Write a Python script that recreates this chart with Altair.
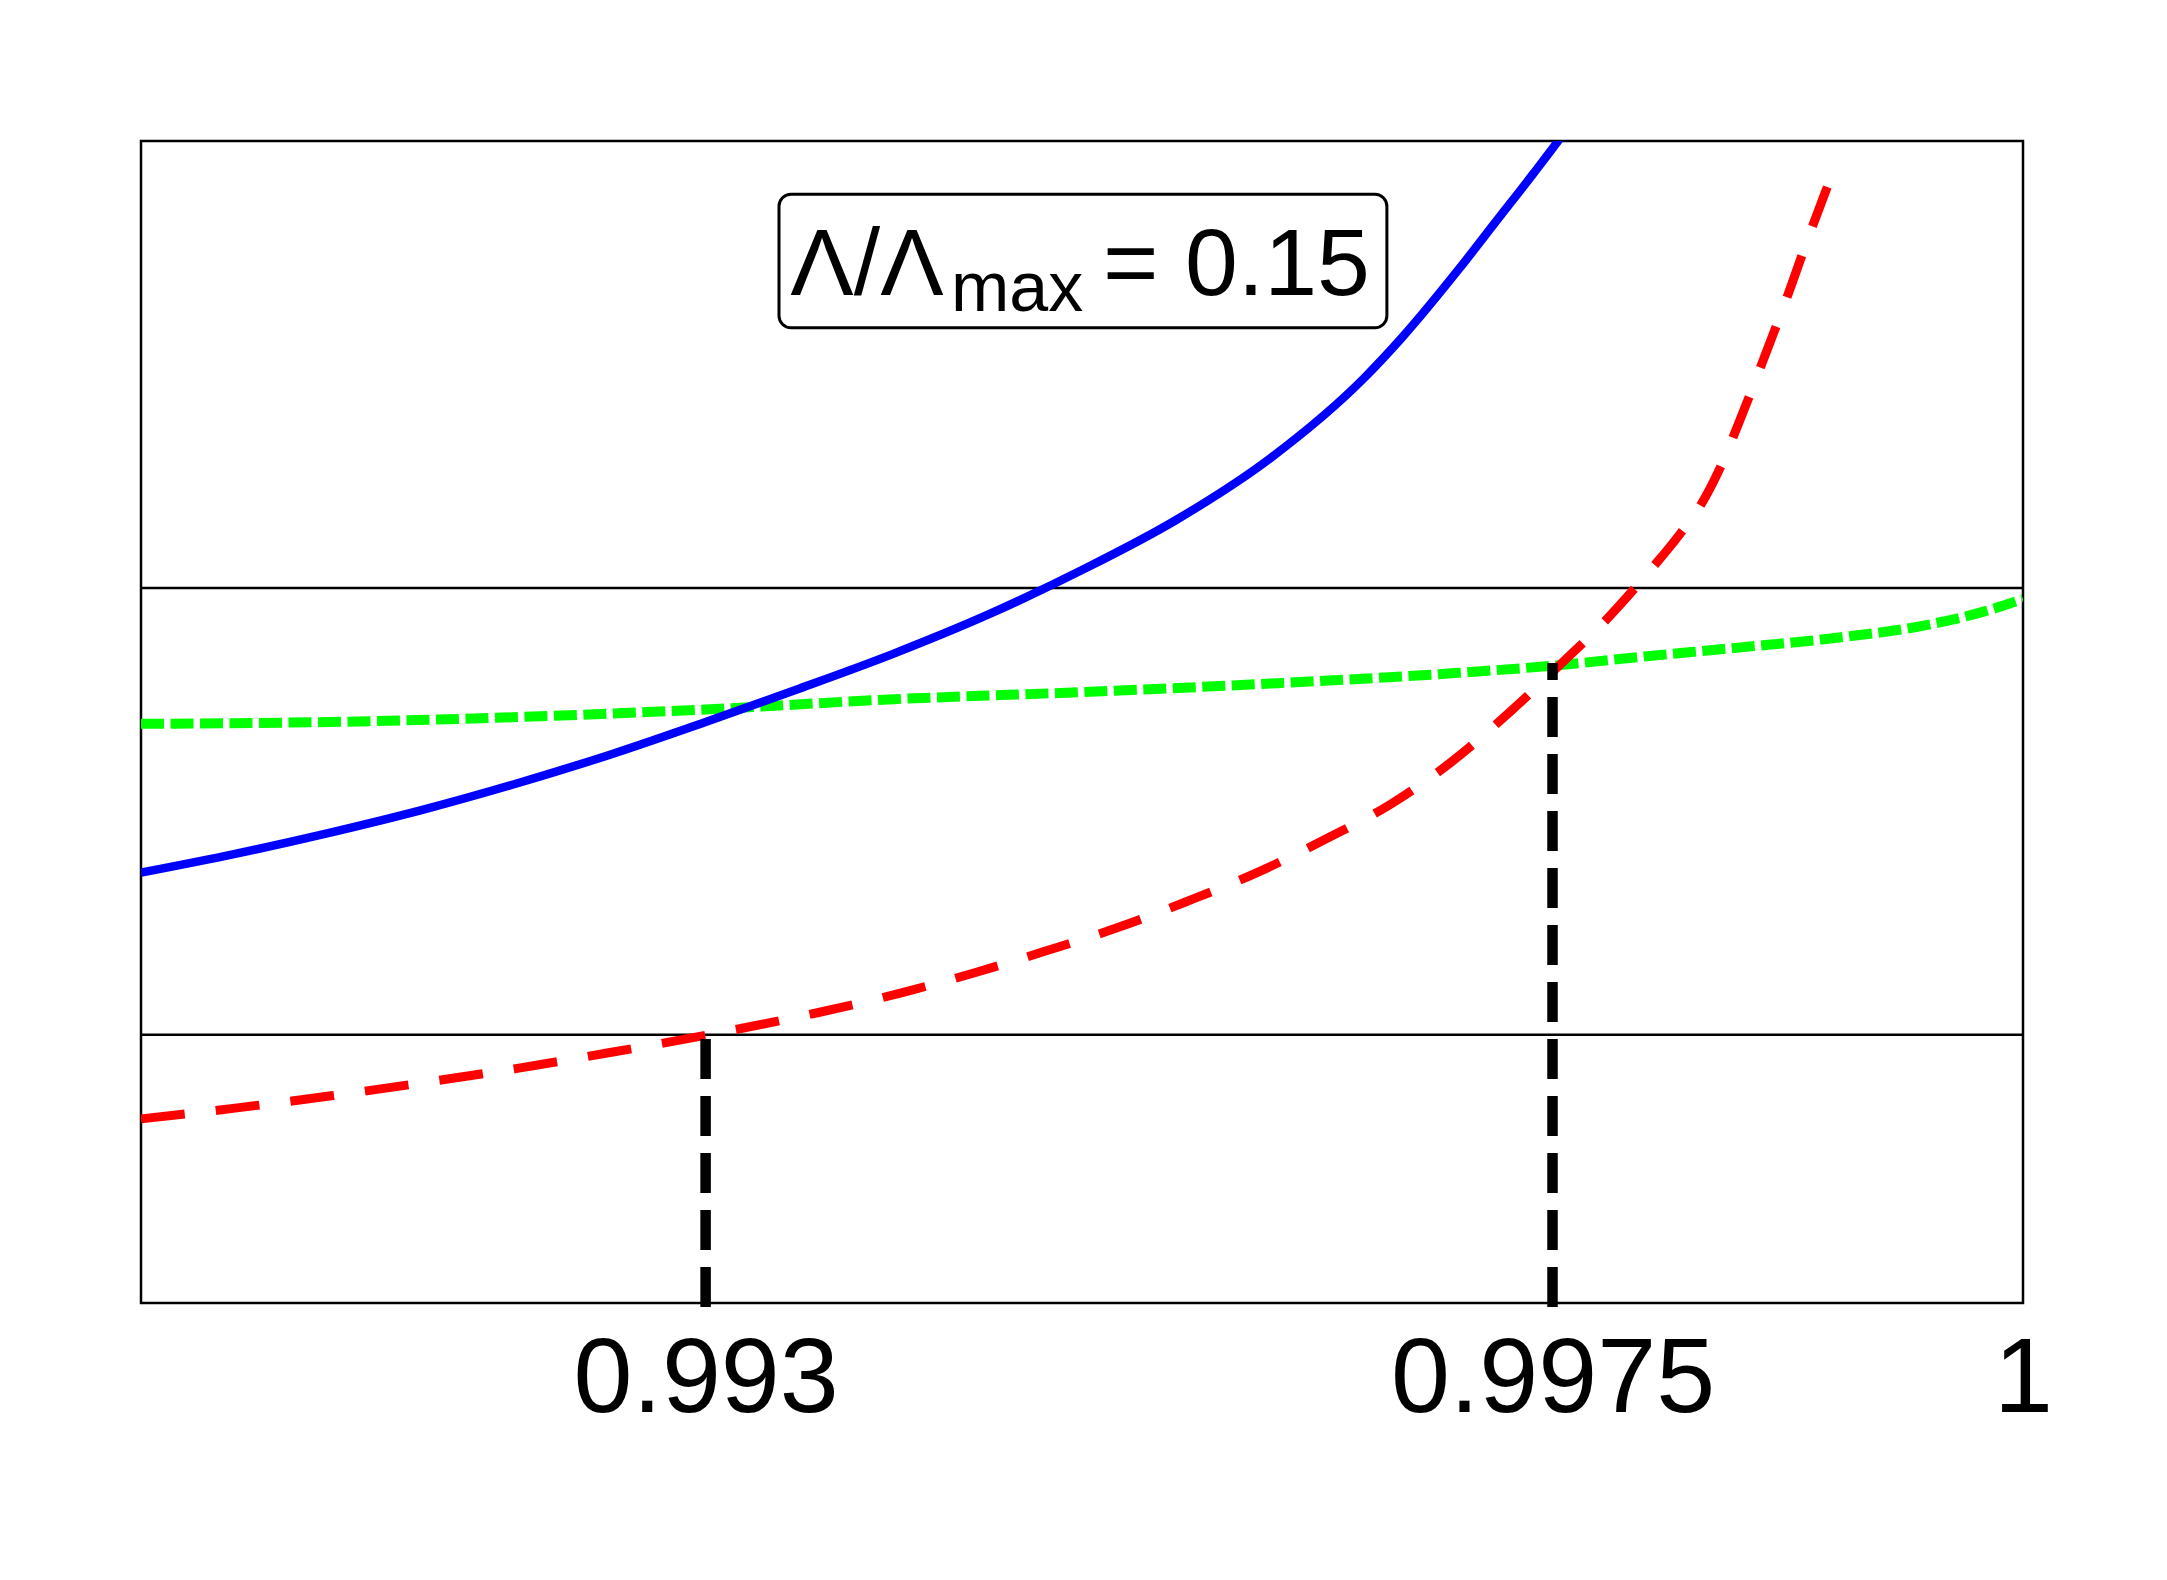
import math
import altair as alt
import pandas as pd

# ---- data ----
blue_x = [0.9900, 0.9905, 0.9910, 0.9915, 0.9920, 0.9925, 0.9930, 0.9935, 0.9940,
          0.9945, 0.9950, 0.9955, 0.9960, 0.9965, 0.9967, 0.9970, 0.9972, 0.9974, 0.99753, 0.9976]
blue_y = [1.363, 1.405, 1.452, 1.504, 1.563, 1.628, 1.700, 1.775, 1.853,
          1.940, 2.040, 2.152, 2.290, 2.470, 2.560, 2.712, 2.820, 2.928, 3.000, 3.040]

green_x = [0.9900, 0.9910, 0.9920, 0.9930, 0.9940, 0.9950, 0.9960, 0.9970, 0.9975,
           0.9980, 0.9985, 0.9990, 0.9995, 0.9998, 1.0000]
green_y = [1.696, 1.700, 1.711, 1.728, 1.751, 1.767, 1.786, 1.810, 1.826,
           1.847, 1.867, 1.888, 1.918, 1.948, 1.975]

red_x = [0.9900, 0.9905, 0.9910, 0.9915, 0.9920, 0.9925, 0.9930, 0.9936,
         0.99404, 0.99443, 0.99481, 0.99519, 0.99556, 0.99593, 0.99629, 0.99664,
         0.99697, 0.99728, 0.99755, 0.99777, 0.99800, 0.99818, 0.99828, 0.99839,
         0.99850, 0.99862, 0.99875, 0.99886, 0.99896]
red_y = [0.812, 0.836, 0.863, 0.893, 0.925, 0.961, 0.999, 1.050,
         1.094, 1.139, 1.188, 1.240, 1.299, 1.363, 1.437, 1.516,
         1.613, 1.725, 1.832, 1.922, 2.030, 2.122, 2.180, 2.268,
         2.380, 2.510, 2.655, 2.785, 2.897]

ref_levels = [1.0, 2.0]
marker_x = [0.993, 0.9975]
marker_top = [1.0, 1.832]
marker_bottom = [0.391, 0.391]
tick_values = [0.993, 0.9975, 1.0]

box_x = [0.99339]
box_x2 = [0.99662]
box_y = [2.582]
box_y2 = [2.881]

label_text = ["Λ/Λ", "max", "= 0.15"]
label_x = [0.99345, 0.994304, 0.995112]
label_y = [2.6554, 2.6196, 2.6554]
label_size = [95, 70, 95]

X_DOMAIN = [0.99, 1.0]
Y_DOMAIN = [0.4, 3.0]
FONT = "Liberation Sans"
W, H = 1882, 1162

xs = alt.Scale(domain=X_DOMAIN, nice=False, zero=False)
ys = alt.Scale(domain=Y_DOMAIN, nice=False, zero=False)

xaxis = alt.Axis(values=tick_values, format=".4~f", grid=False, domain=False,
                 ticks=False, tickSize=0, labelPadding=24, labelFontSize=106,
                 labelFont=FONT, labelColor="black", labelFlush=False,
                 labelOverlap=False, labelLimit=0, title=None)


def pixel_length(xv, yv):
    kx = W / (X_DOMAIN[1] - X_DOMAIN[0])
    ky = H / (Y_DOMAIN[1] - Y_DOMAIN[0])
    return sum(math.hypot((xv[i + 1] - xv[i]) * kx, (yv[i + 1] - yv[i]) * ky)
               for i in range(len(xv) - 1))


def fitted_dash(xv, yv, dash, gap):
    # stretch the gap a little so the curve ends on the end of a dash
    L = pixel_length(xv, yv) + 2
    n = max(1, round((L - dash) / (dash + gap)))
    return [dash, (L - dash) / n - dash]


def line_layer(xv, yv, color, width, dash=None):
    df = pd.DataFrame({"x": xv, "y": yv, "o": list(range(len(xv)))})
    kw = dict(color=color, strokeWidth=width, clip=True, strokeCap="butt",
              interpolate="monotone")
    if dash:
        kw["strokeDash"] = dash
    return alt.Chart(df).mark_line(**kw).encode(
        x=alt.X("x:Q", scale=xs, axis=xaxis),
        y=alt.Y("y:Q", scale=ys, axis=None),
        order="o:Q",
    )


rules = alt.Chart(pd.DataFrame({"y": ref_levels})).mark_rule(
    color="black", strokeWidth=2.5
).encode(y=alt.Y("y:Q", scale=ys, axis=None))

green = line_layer(green_x, green_y, "#00ff00", 10, [23, 6.5])
blue = line_layer(blue_x, blue_y, "#0000ff", 8.5)
red = line_layer(red_x, red_y, "#ff0000", 9, fitted_dash(red_x, red_y, 44, 30))

markers = alt.Chart(pd.DataFrame({"x": marker_x, "yb": marker_bottom, "yt": marker_top})).mark_rule(
    color="black", strokeWidth=10.5, strokeDash=[40, 17], strokeCap="butt", clip=False
).encode(
    x=alt.X("x:Q", scale=xs, axis=xaxis),
    y=alt.Y("yb:Q", scale=ys, axis=None),
    y2="yt:Q",
)

box = alt.Chart(pd.DataFrame({"x": box_x, "x2": box_x2, "y": box_y, "y2": box_y2})).mark_rect(
    fill="white", stroke="black", strokeWidth=3, cornerRadius=12
).encode(
    x=alt.X("x:Q", scale=xs, axis=xaxis),
    x2="x2:Q",
    y=alt.Y("y:Q", scale=ys, axis=None),
    y2="y2:Q",
)

label_layers = []
for t, lx, ly, sz in zip(label_text, label_x, label_y, label_size):
    label_layers.append(
        alt.Chart(pd.DataFrame({"t": [t], "x": [lx], "y": [ly]})).mark_text(
            align="left", baseline="alphabetic", font=FONT, fontSize=sz, color="black"
        ).encode(
            x=alt.X("x:Q", scale=xs, axis=xaxis),
            y=alt.Y("y:Q", scale=ys, axis=None),
            text="t:N",
        )
    )

chart = alt.layer(rules, green, blue, red, markers, box, *label_layers).properties(
    width=W,
    height=H,
    autosize=alt.AutoSizeParams(type="none"),
    padding={"left": 141, "top": 141, "right": 144, "bottom": 277},
    background="white",
).configure_view(stroke="black", strokeWidth=2.5)

chart.save("out.html", embed_options={"renderer": "svg", "actions": False})
